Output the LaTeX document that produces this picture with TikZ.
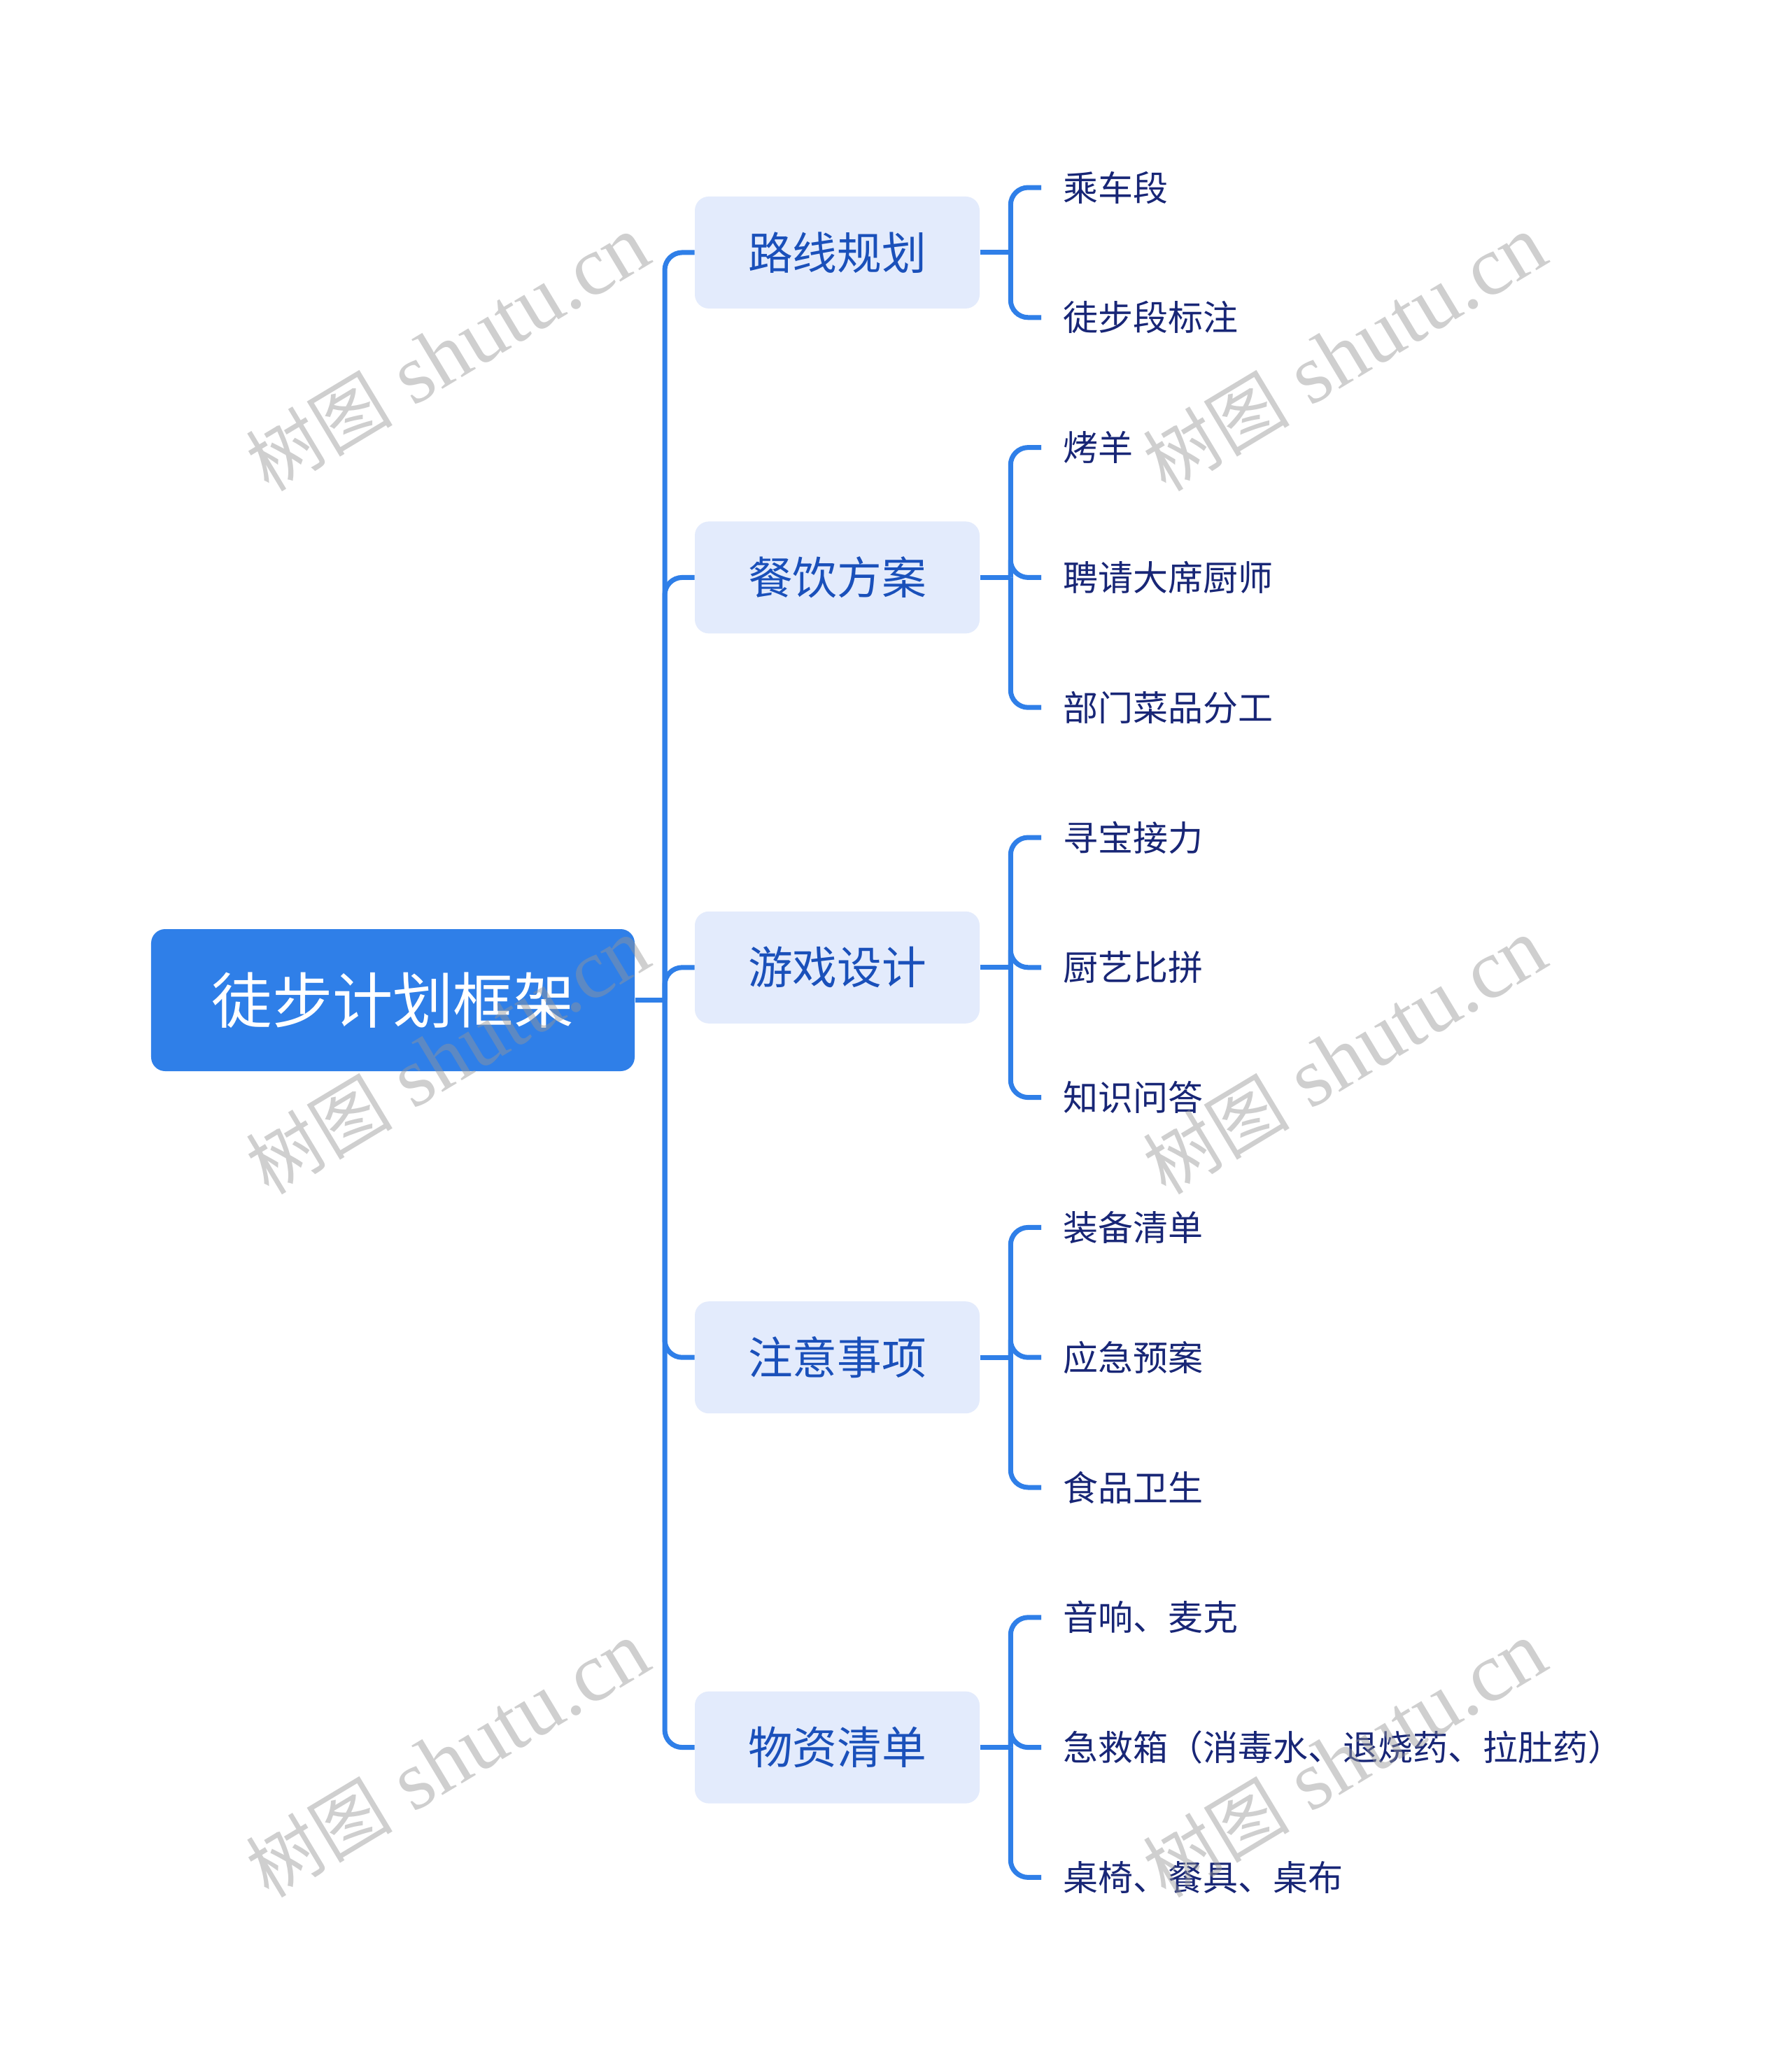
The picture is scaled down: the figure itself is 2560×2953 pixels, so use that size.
\documentclass[tikz,border=0pt]{standalone}
\usepackage{fontspec}
\setmainfont{Noto Sans CJK SC}
\newfontfamily\cjkfont{Noto Sans CJK SC}
\newfontfamily\wmserif{Liberation Serif}
\definecolor{mainblue}{RGB}{47,127,232}
\definecolor{lvtwofill}{RGB}{227,235,252}
\definecolor{lvtwotext}{RGB}{26,80,186}
\definecolor{leaftext}{RGB}{24,38,118}
\definecolor{wmgray}{RGB}{150,150,150}
\tikzset{
  rootbox/.style={draw=none, fill=mainblue, rounded corners=8pt, minimum width=276.4pt, minimum height=81.2pt, inner sep=0pt, text=white, font=\fontsize{34.5pt}{36pt}\selectfont},
  lvtwo/.style={draw=none, fill=lvtwofill, rounded corners=8pt, minimum width=162.8pt, minimum height=64pt, inner sep=0pt, text=lvtwotext, font=\fontsize{25.5pt}{27pt}\selectfont},
  leaf/.style={anchor=west, inner sep=0pt, text height=17.6pt, text depth=2.4pt, text=leaftext, font=\fontsize{20pt}{22pt}\selectfont},
  conn/.style={draw=mainblue, line width=2.8pt, rounded corners=10pt},
  wm/.style={text=wmgray, opacity=0.45, inner sep=0pt, font=\fontsize{48pt}{50pt}\selectfont, rotate=31}
}
\begin{document}
\begin{tikzpicture}[x=0.4pt,y=-0.4pt]
\useasboundingbox[fill=white] (0,0) rectangle (2560,2953);
% root
\node[rootbox] (root) at (561.5,1429.5) {徒步计划框架};
% level two
\node[lvtwo] (a) at (1196.5,360.9) {路线规划};
\node[lvtwo] (b) at (1196.5,825.4) {餐饮方案};
\node[lvtwo] (c) at (1196.5,1382.8) {游戏设计};
\node[lvtwo] (d) at (1196.5,1940.2) {注意事项};
\node[lvtwo] (e) at (1196.5,2497.6) {物资清单};
% leaves
\node[leaf] (a1) at (1519,268) {乘车段};
\node[leaf] (a2) at (1519,453.8) {徒步段标注};
\node[leaf] (b1) at (1519,639.6) {烤羊};
\node[leaf] (b2) at (1519,825.4) {聘请大席厨师};
\node[leaf] (b3) at (1519,1011.2) {部门菜品分工};
\node[leaf] (c1) at (1519,1197) {寻宝接力};
\node[leaf] (c2) at (1519,1382.8) {厨艺比拼};
\node[leaf] (c3) at (1519,1568.6) {知识问答};
\node[leaf] (d1) at (1519,1754.4) {装备清单};
\node[leaf] (d2) at (1519,1940.2) {应急预案};
\node[leaf] (d3) at (1519,2126) {食品卫生};
\node[leaf] (e1) at (1519,2311.8) {音响、麦克};
\node[leaf] (e2) at (1519,2497.6) {急救箱（消毒水、退烧药、拉肚药）};
\node[leaf] (e3) at (1519,2683.4) {桌椅、餐具、桌布};
% trunk
\coordinate (tr) at (root.east -| 950,0);
\draw[conn] (root.east) -- (tr);
\foreach \n in {a,b,c,d,e}{
  \draw[conn] (tr) |- (\n.west);
}
% branches
\foreach \p/\kids in {a/{a1,a2}, b/{b1,b2,b3}, c/{c1,c2,c3}, d/{d1,d2,d3}, e/{e1,e2,e3}}{
  \coordinate (\p br) at ([xshift=17.5pt]\p.east);
  \draw[conn] (\p.east) -- (\p br);
  \foreach \k in \kids {
    \draw[conn] (\p br) |- ([xshift=-12.4pt]\k.west);
  }
}
% watermarks
\foreach \wx/\wy [count=\i] in {640/505, 1922/505, 640/1510, 1922/1510, 640/2515, 1922/2515}{
  \node[wm] (wm\i) at (\wx,\wy) {{\cjkfont\fontsize{42pt}{44pt}\selectfont 树图}\wmserif{} shutu.cn};
}
\end{tikzpicture}
\end{document}
